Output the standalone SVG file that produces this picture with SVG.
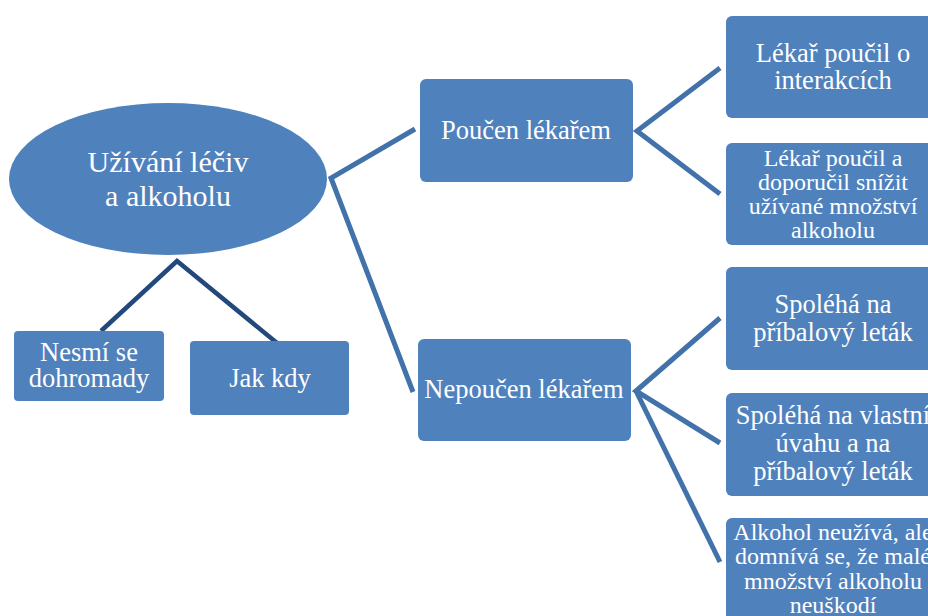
<svg xmlns="http://www.w3.org/2000/svg" width="928" height="616" viewBox="0 0 928 616">
  <style>
    .node { fill: #4f81bd; }
    .lbl { fill: #ffffff; text-anchor: middle; }
    .f30 { font-size: 30px; }
    .f26 { font-size: 26.5px; }
    .f24 { font-size: 24px; }
    .link { fill: none; stroke: #4272aa; stroke-width: 5; stroke-linejoin: miter; }
    .link-dark { fill: none; stroke: #23487c; stroke-width: 4.5; stroke-linejoin: miter; }
  </style>
  <rect width="928" height="616" fill="#ffffff"/>

  <!-- connectors -->
  <g id="connectors">
    <polyline class="link-dark" points="101,331 177,261 277,343"/>
    <polyline class="link" points="415,129 331,178 413,392"/>
    <polyline class="link" points="720,68 637,131 720,194"/>
    <polyline class="link" points="720,318 636,391 720,443"/>
    <line class="link" x1="636" y1="391" x2="720" y2="562"/>
  </g>

  <g id="nodes" font-family="'Liberation Serif', 'DejaVu Serif', serif">
    <!-- root -->
    <g id="root">
      <ellipse class="node" cx="168" cy="179" rx="159" ry="76"/>
      <text class="lbl f30" x="168" y="172">Užívání léčiv</text>
      <text class="lbl f30" x="168" y="206">a alkoholu</text>
    </g>

    <g id="nesmi">
      <rect class="node" x="14" y="331" width="150" height="70" rx="4"/>
      <text class="lbl f26" x="89" y="361">Nesmí se</text>
      <text class="lbl f26" x="89" y="387">dohromady</text>
    </g>

    <g id="jak-kdy">
      <rect class="node" x="190" y="341" width="159" height="74" rx="4"/>
      <text class="lbl f26" x="270" y="387">Jak kdy</text>
    </g>

    <g id="poucen">
      <rect class="node" x="420" y="79" width="213" height="103" rx="6"/>
      <text class="lbl f26" x="526" y="139">Poučen lékařem</text>
    </g>

    <g id="nepoucen">
      <rect class="node" x="418" y="339" width="213" height="102" rx="6"/>
      <text class="lbl f26" x="524" y="398">Nepoučen lékařem</text>
    </g>

    <g id="interakce">
      <rect class="node" x="726" y="16" width="214" height="102" rx="6"/>
      <text class="lbl f26" x="833" y="62">Lékař poučil o</text>
      <text class="lbl f26" x="833" y="89">interakcích</text>
    </g>

    <g id="snizit">
      <rect class="node" x="726" y="143" width="214" height="102" rx="6"/>
      <text class="lbl f24" x="833" y="166">Lékař poučil a</text>
      <text class="lbl f24" x="833" y="190">doporučil snížit</text>
      <text class="lbl f24" x="833" y="214">užívané množství</text>
      <text class="lbl f24" x="833" y="238">alkoholu</text>
    </g>

    <g id="letak">
      <rect class="node" x="726" y="267" width="214" height="103" rx="6"/>
      <text class="lbl f26" x="833" y="313">Spoléhá na</text>
      <text class="lbl f26" x="833" y="341">příbalový leták</text>
    </g>

    <g id="uvaha">
      <rect class="node" x="726" y="393" width="214" height="103" rx="6"/>
      <text class="lbl f26" x="833" y="424">Spoléhá na vlastní</text>
      <text class="lbl f26" x="833" y="452">úvahu a na</text>
      <text class="lbl f26" x="833" y="480">příbalový leták</text>
    </g>

    <g id="neuziva">
      <rect class="node" x="726" y="518" width="214" height="110" rx="6"/>
      <text class="lbl f24" x="833" y="540">Alkohol neužívá, ale</text>
      <text class="lbl f24" x="833" y="564">domnívá se, že malé</text>
      <text class="lbl f24" x="833" y="589">množství alkoholu</text>
      <text class="lbl f24" x="833" y="613">neuškodí</text>
    </g>
  </g>
</svg>
